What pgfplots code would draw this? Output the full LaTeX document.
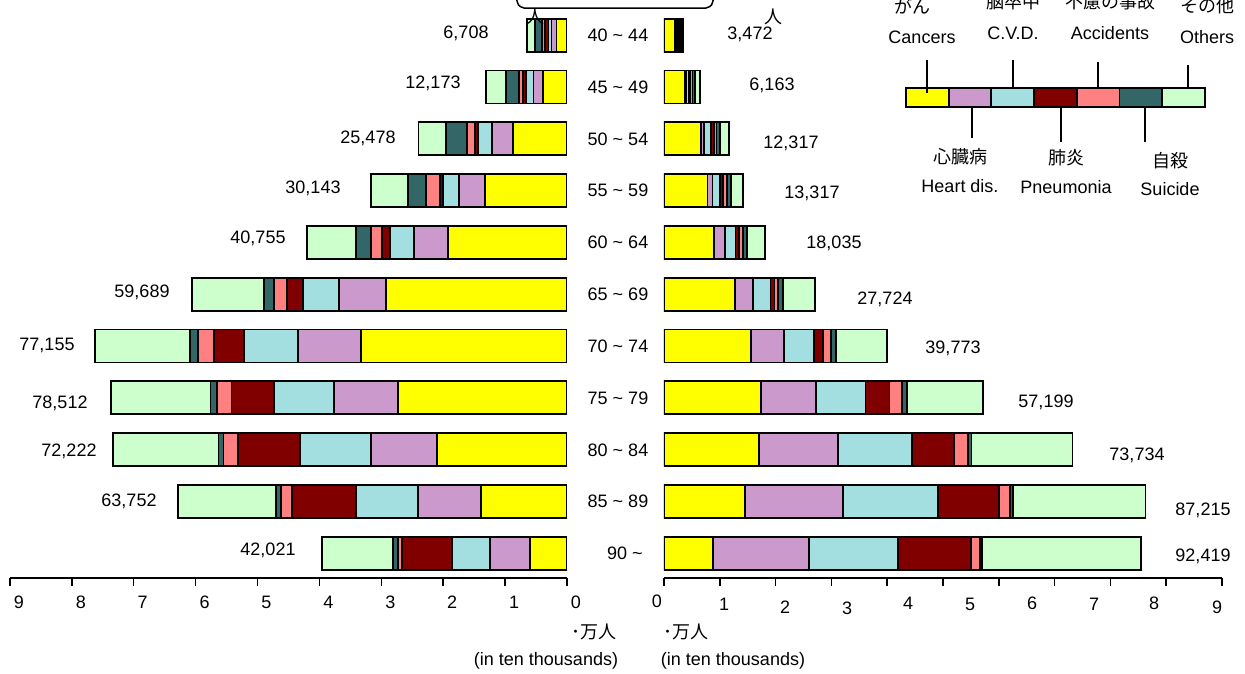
\documentclass[border=0pt]{standalone}
\usepackage{pgfplots}
\pgfplotsset{compat=1.18}
\usepackage{pgfplotstable}
\usepackage{fontspec}
\setmainfont{Liberation Sans}
\newfontfamily\jp{Noto Sans CJK JP}

\definecolor{cCan}{HTML}{FFFF00}
\definecolor{cHrt}{HTML}{CC99CC}
\definecolor{cCvd}{HTML}{A3DFE0}
\definecolor{cPne}{HTML}{800000}
\definecolor{cAcc}{HTML}{FF8080}
\definecolor{cSui}{HTML}{336666}
\definecolor{cOth}{HTML}{CCFFCC}

% deaths by cause, in ten thousands; k = age group (0 = 40~44 ... 10 = 90~)
\pgfplotstableread{
k can hrt cvd pne acc sui oth
0 0.17 0.08 0.05 0.05 0.06 0.11 0.12
1 0.39 0.15 0.12 0.05 0.07 0.20 0.33
2 0.87 0.34 0.23 0.05 0.13 0.34 0.44
3 1.32 0.42 0.26 0.05 0.23 0.29 0.60
4 1.92 0.55 0.39 0.13 0.18 0.24 0.79
5 2.92 0.76 0.58 0.27 0.21 0.16 1.16
6 3.33 1.02 0.87 0.48 0.26 0.13 1.53
7 2.73 1.03 0.97 0.69 0.24 0.10 1.60
8 2.10 1.07 1.15 1.00 0.23 0.08 1.70
9 1.39 1.02 1.00 1.03 0.18 0.08 1.58
10 0.60 0.65 0.61 0.80 0.07 0.08 1.15
}\leftdata

\pgfplotstableread{
k can hrt cvd pne acc sui oth
0 0.20 0.02 0.02 0.02 0.03 0.03 0.02
1 0.37 0.03 0.04 0.03 0.04 0.04 0.09
2 0.67 0.05 0.12 0.05 0.05 0.06 0.17
3 0.78 0.09 0.13 0.06 0.07 0.07 0.21
4 0.90 0.20 0.18 0.06 0.07 0.08 0.32
5 1.27 0.32 0.32 0.07 0.07 0.09 0.57
6 1.56 0.59 0.54 0.16 0.14 0.09 0.91
7 1.74 0.99 0.88 0.43 0.22 0.09 1.36
8 1.70 1.42 1.33 0.75 0.25 0.06 1.81
9 1.45 1.76 1.70 1.09 0.20 0.06 2.37
10 0.88 1.72 1.59 1.31 0.16 0.04 2.85
}\rightdata

\pgfplotsset{
  pyr/.style={
    xbar stacked, bar width=19.8pt,
    y=31.08pt, y dir=reverse, ymin=-0.5, ymax=10.48,
    axis x line*=bottom, axis y line=none,
    axis line style={line width=1.5pt},
    ytick=\empty, tick align=outside, major tick length=4.8pt,
    tick style={line width=0.9pt,black},
    /pgf/number format/assume math mode=true,
    every axis plot/.append style={draw=black,line width=1.1pt},
  },
}

\begin{document}
\fontsize{10.8}{13}\selectfont
\begin{tikzpicture}[x=0.6pt,y=-0.6pt]
\path[use as bounding box] (0,0) rectangle (1245,673);

\begin{axis}[pyr, at={(340.2pt,-346.8pt)}, anchor=south east,
  x dir=reverse, x=37.14pt, xmin=0, xmax=9, xtick={0,...,9},
  xticklabel style={xshift=5.4pt,yshift=-2pt}]
\addplot[fill=cCan] table[x=can,y=k] {\leftdata};
\addplot[fill=cHrt] table[x=hrt,y=k] {\leftdata};
\addplot[fill=cCvd] table[x=cvd,y=k] {\leftdata};
\addplot[fill=cPne] table[x=pne,y=k] {\leftdata};
\addplot[fill=cAcc] table[x=acc,y=k] {\leftdata};
\addplot[fill=cSui] table[x=sui,y=k] {\leftdata};
\addplot[fill=cOth] table[x=oth,y=k] {\leftdata};
\end{axis}

\begin{axis}[pyr, at={(398.4pt,-346.8pt)}, anchor=south west,
  x=33.48pt, xmin=0, xmax=10, xtick={0,...,10},
  xticklabels={,,,,,,,,,,}]
\addplot[fill=cCan] table[x=can,y=k] {\rightdata};
\addplot[fill=cHrt] table[x=hrt,y=k] {\rightdata};
\addplot[fill=cCvd] table[x=cvd,y=k] {\rightdata};
\addplot[fill=cPne] table[x=pne,y=k] {\rightdata};
\addplot[fill=cAcc] table[x=acc,y=k] {\rightdata};
\addplot[fill=cSui] table[x=sui,y=k] {\rightdata};
\addplot[fill=cOth] table[x=oth,y=k] {\rightdata};
\end{axis}

% right tick labels (offset from the ticks as in the original)
\node at (657,601) {0};
\node at (724,604) {1};
\node at (785,607) {2};
\node at (847,608) {3};
\node at (908,603) {4};
\node at (970,604) {5};
\node at (1032,603) {6};
\node at (1094,604) {7};
\node at (1154,603) {8};
\node at (1217,607) {9};

% age groups
\node at (618,35) {40 \textasciitilde{} 44};
\node at (618,87) {45 \textasciitilde{} 49};
\node at (618,139) {50 \textasciitilde{} 54};
\node at (618,190) {55 \textasciitilde{} 59};
\node at (618,242) {60 \textasciitilde{} 64};
\node at (618,294) {65 \textasciitilde{} 69};
\node at (618,346) {70 \textasciitilde{} 74};
\node at (618,398) {75 \textasciitilde{} 79};
\node at (618,450) {80 \textasciitilde{} 84};
\node at (618,501) {85 \textasciitilde{} 89};
\node at (625,553) {90 \textasciitilde{}};

% totals, left
\node at (466,33) {6,708};
\node at (433,83) {12,173};
\node at (368,138) {25,478};
\node at (313,188) {30,143};
\node at (258,238) {40,755};
\node at (142,292) {59,689};
\node at (47,345) {77,155};
\node at (60,403) {78,512};
\node at (69,451) {72,222};
\node at (129,501) {63,752};
\node at (268,550) {42,021};
% totals, right
\node at (750,34) {3,472};
\node at (772,85) {6,163};
\node at (791,143) {12,317};
\node at (812,193) {13,317};
\node at (834,243) {18,035};
\node at (885,299) {27,724};
\node at (953,348) {39,773};
\node at (1046,402) {57,199};
\node at (1137,455) {73,734};
\node at (1203,510) {87,215};
\node at (1203,556) {92,419};

% header remnants
\node at (535,17) {\jp 人};
\node at (773,17) {\jp 人};
\draw[line width=0.9pt] (516,-4) .. controls (518,6) .. (524,8) -- (706,8) .. controls (712,6) .. (714,-4);

% units
\node at (594,632) {\jp ･万人};
\node at (686,632) {\jp ･万人};
\node at (546,661) {(in ten thousands)};
\node at (733,661) {(in ten thousands)};

% legend key
\foreach \c [count=\i from 0] in {cCan,cHrt,cCvd,cPne,cAcc,cSui,cOth}
  \draw[fill=\c,line width=1.1pt] (906+42.7*\i,88) rectangle (906+42.7*\i+42.7,107);
\draw[line width=0.9pt] (927,60) -- (927,93);
\draw[line width=0.9pt] (1013,60) -- (1013,88);
\draw[line width=0.9pt] (1098,62) -- (1098,88);
\draw[line width=0.9pt] (1188,65) -- (1188,88);
\draw[line width=0.9pt] (972,107) -- (972,138);
\draw[line width=0.9pt] (1061,107) -- (1061,142);
\draw[line width=0.9pt] (1145,107) -- (1145,142);
\node at (912,6) {\jp がん};
\node at (922,37) {Cancers};
\node at (1013,2) {\jp 脳卒中};
\node at (1013,33) {C.V.D.};
\node at (1110,2) {\jp 不慮の事故};
\node at (1110,33) {Accidents};
\node at (1207,6) {\jp その他};
\node at (1207,37) {Others};
\node at (960,157) {\jp 心臓病};
\node at (960,186) {Heart dis.};
\node at (1066,158) {\jp 肺炎};
\node at (1066,187) {Pneumonia};
\node at (1170,161) {\jp 自殺};
\node at (1170,189) {Suicide};
\end{tikzpicture}
\end{document}
